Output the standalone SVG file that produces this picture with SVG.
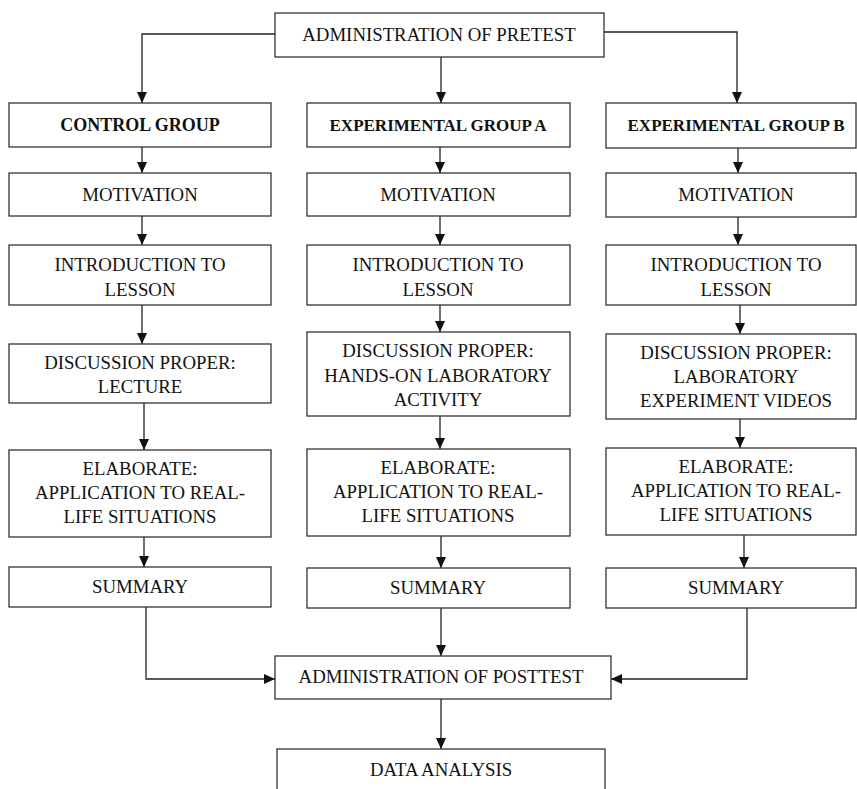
<svg xmlns="http://www.w3.org/2000/svg" width="857" height="789" viewBox="0 0 857 789">
<style>
  .box{fill:#fff;stroke:#333;stroke-width:1.3}
  .t{font-family:"Liberation Serif","Times New Roman",serif;font-size:18.8px;fill:#111;text-anchor:middle}
  .b{font-weight:bold;font-size:17px}
  .cg{font-size:18px}
  .c{fill:none;stroke:#222;stroke-width:1.3}
</style>
<defs>
  <marker id="ah" markerUnits="userSpaceOnUse" markerWidth="12" markerHeight="12" refX="11" refY="5" orient="auto">
    <path d="M0,0 L11,5 L0,10 Z" fill="#111"/>
  </marker>
</defs>
<rect width="857" height="789" fill="#fff"/>
<g id="connectors">
  <path class="c" d="M275,34 H142 V103" marker-end="url(#ah)"/>
  <path class="c" d="M441,57 V103" marker-end="url(#ah)"/>
  <path class="c" d="M604,32 H737 V103" marker-end="url(#ah)"/>
  <path class="c" d="M142,147 V173" marker-end="url(#ah)"/>
  <path class="c" d="M142,216 V245" marker-end="url(#ah)"/>
  <path class="c" d="M142,305 V344" marker-end="url(#ah)"/>
  <path class="c" d="M144,403 V450" marker-end="url(#ah)"/>
  <path class="c" d="M144,537 V567" marker-end="url(#ah)"/>
  <path class="c" d="M440,147 V173" marker-end="url(#ah)"/>
  <path class="c" d="M440,216 V245" marker-end="url(#ah)"/>
  <path class="c" d="M440,305 V332" marker-end="url(#ah)"/>
  <path class="c" d="M440,416 V449" marker-end="url(#ah)"/>
  <path class="c" d="M441,536 V568" marker-end="url(#ah)"/>
  <path class="c" d="M738,148 V173" marker-end="url(#ah)"/>
  <path class="c" d="M738,217 V245" marker-end="url(#ah)"/>
  <path class="c" d="M740,305 V334" marker-end="url(#ah)"/>
  <path class="c" d="M740,419 V448" marker-end="url(#ah)"/>
  <path class="c" d="M744,535 V568" marker-end="url(#ah)"/>
  <path class="c" d="M146,607 V679 H275" marker-end="url(#ah)"/>
  <path class="c" d="M441,608 V656" marker-end="url(#ah)"/>
  <path class="c" d="M747,608 V679 H611" marker-end="url(#ah)"/>
  <path class="c" d="M441,699 V749" marker-end="url(#ah)"/>
</g>
<g id="pretest"><rect class="box" x="275" y="13" width="329" height="44"/><text class="t" x="439" y="41">ADMINISTRATION OF PRETEST</text></g>

<g id="control-group"><rect class="box" x="9" y="103" width="262" height="44"/><text class="t b cg" x="140" y="131">CONTROL GROUP</text></g>
<g id="control-motivation"><rect class="box" x="9" y="173" width="262" height="43"/><text class="t" x="140" y="201">MOTIVATION</text></g>
<g id="control-intro"><rect class="box" x="9" y="245" width="262" height="60"/><text class="t" x="140" y="271">INTRODUCTION TO</text><text class="t" x="140" y="296">LESSON</text></g>
<g id="control-discussion"><rect class="box" x="9" y="344" width="262" height="59"/><text class="t" x="140" y="369">DISCUSSION PROPER:</text><text class="t" x="140" y="393">LECTURE</text></g>
<g id="control-elaborate"><rect class="box" x="9" y="450" width="262" height="87"/><text class="t" x="140" y="475">ELABORATE:</text><text class="t" x="140" y="499">APPLICATION TO REAL-</text><text class="t" x="140" y="523">LIFE SITUATIONS</text></g>
<g id="control-summary"><rect class="box" x="9" y="567" width="262" height="40"/><text class="t" x="140" y="593">SUMMARY</text></g>

<g id="expA-group"><rect class="box" x="307" y="103" width="263" height="44"/><text class="t b" x="438" y="131">EXPERIMENTAL GROUP A</text></g>
<g id="expA-motivation"><rect class="box" x="307" y="173" width="263" height="43"/><text class="t" x="438" y="201">MOTIVATION</text></g>
<g id="expA-intro"><rect class="box" x="307" y="245" width="263" height="60"/><text class="t" x="438" y="271">INTRODUCTION TO</text><text class="t" x="438" y="296">LESSON</text></g>
<g id="expA-discussion"><rect class="box" x="307" y="332" width="263" height="84"/><text class="t" x="438" y="357">DISCUSSION PROPER:</text><text class="t" x="438" y="382">HANDS-ON LABORATORY</text><text class="t" x="438" y="406">ACTIVITY</text></g>
<g id="expA-elaborate"><rect class="box" x="307" y="449" width="263" height="87"/><text class="t" x="438" y="474">ELABORATE:</text><text class="t" x="438" y="498">APPLICATION TO REAL-</text><text class="t" x="438" y="522">LIFE SITUATIONS</text></g>
<g id="expA-summary"><rect class="box" x="307" y="568" width="263" height="40"/><text class="t" x="438" y="594">SUMMARY</text></g>

<g id="expB-group"><rect class="box" x="606" y="103" width="250" height="45"/><text class="t b" x="736" y="131">EXPERIMENTAL GROUP B</text></g>
<g id="expB-motivation"><rect class="box" x="606" y="173" width="250" height="44"/><text class="t" x="736" y="201">MOTIVATION</text></g>
<g id="expB-intro"><rect class="box" x="606" y="245" width="250" height="60"/><text class="t" x="736" y="271">INTRODUCTION TO</text><text class="t" x="736" y="296">LESSON</text></g>
<g id="expB-discussion"><rect class="box" x="606" y="334" width="250" height="85"/><text class="t" x="736" y="359">DISCUSSION PROPER:</text><text class="t" x="736" y="383">LABORATORY</text><text class="t" x="736" y="407">EXPERIMENT VIDEOS</text></g>
<g id="expB-elaborate"><rect class="box" x="606" y="448" width="250" height="87"/><text class="t" x="736" y="473">ELABORATE:</text><text class="t" x="736" y="497">APPLICATION TO REAL-</text><text class="t" x="736" y="521">LIFE SITUATIONS</text></g>
<g id="expB-summary"><rect class="box" x="606" y="568" width="250" height="40"/><text class="t" x="736" y="594">SUMMARY</text></g>

<g id="posttest"><rect class="box" x="275" y="656" width="336" height="43"/><text class="t" x="441" y="683">ADMINISTRATION OF POSTTEST</text></g>
<g id="data-analysis"><rect class="box" x="277" y="749" width="328" height="50"/><text class="t" x="441" y="776">DATA ANALYSIS</text></g>
</svg>
